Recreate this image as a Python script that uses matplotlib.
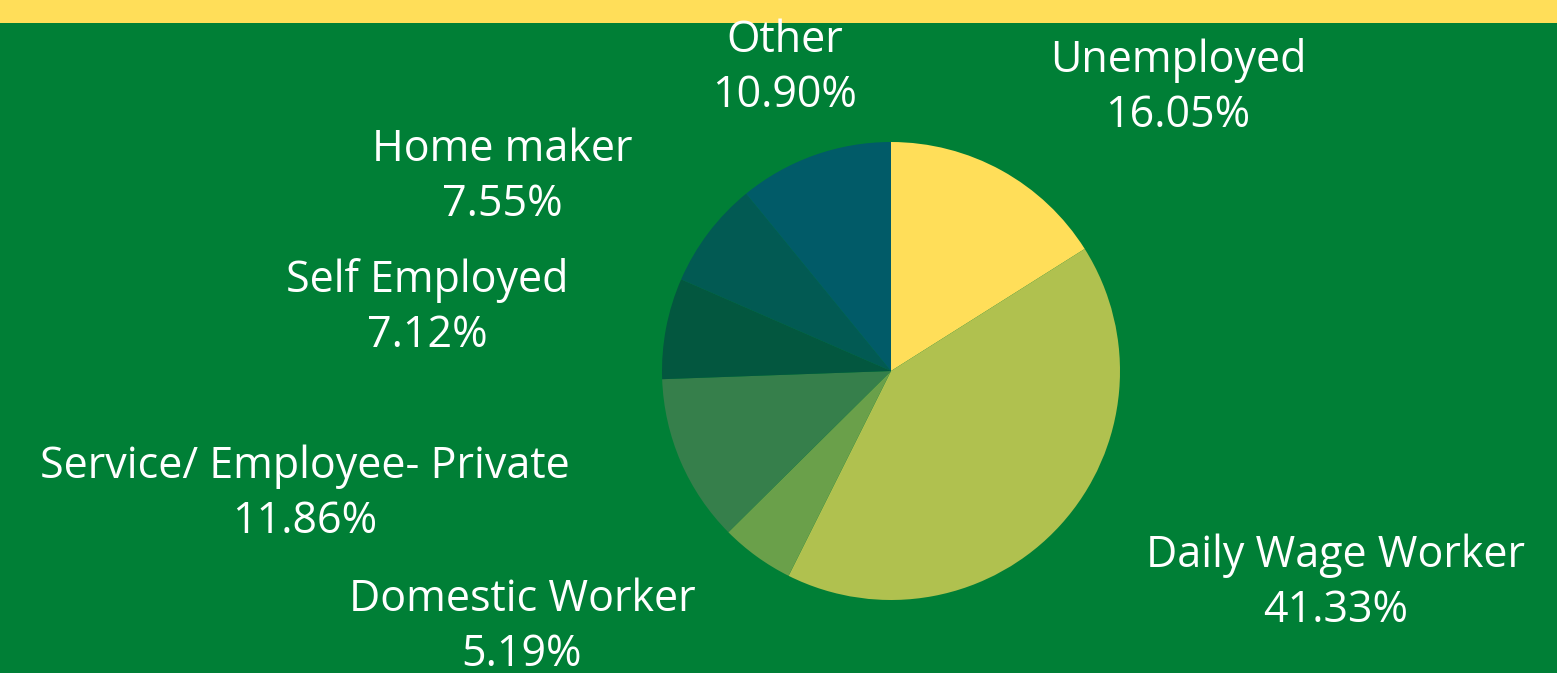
import matplotlib.pyplot as plt
from matplotlib.patches import Rectangle

categories = ["Unemployed", "Daily Wage Worker", "Domestic Worker",
              "Service/ Employee- Private", "Self Employed", "Home maker", "Other"]
shares = [16.05, 41.33, 5.19, 11.86, 7.12, 7.55, 10.90]
colors = ["#FFDE59", "#B0C14F", "#6AA04A", "#367F4B", "#03573F", "#025A53", "#015B68"]

# label centres in pixels (x, y from top)
label_pos = [(1178, 88), (1336, 583), (522, 627), (305, 494),
             (427, 308), (502, 177), (785, 68)]

W, H = 1557, 673
bg = "#007F36"

fig = plt.figure(figsize=(W / 100, H / 100), dpi=100)
fig.patch.set_facecolor(bg)
fig.patches.append(Rectangle((0, 1 - 23 / H), 1, 23 / H, transform=fig.transFigure,
                             facecolor="#FFDE59", edgecolor="none"))

cx, cy, r = 891, 371, 229
ax = fig.add_axes([(cx - r) / W, (H - cy - r) / H, 2 * r / W, 2 * r / H])
ax.pie(shares, colors=colors, startangle=90, counterclock=False, radius=1,
       wedgeprops=dict(linewidth=0))
ax.set_xlim(-1, 1)
ax.set_ylim(-1, 1)
ax.axis("off")

for name, val, (x, y) in zip(categories, shares, label_pos):
    fig.text(x / W, 1 - y / H, f"{name}\n{val:.2f}%", color="white",
             fontsize=31, family="Open Sans", weight="medium", ha="center",
             va="center", multialignment="center", linespacing=1.3)

fig.savefig("out.png", dpi=100, facecolor=bg)
